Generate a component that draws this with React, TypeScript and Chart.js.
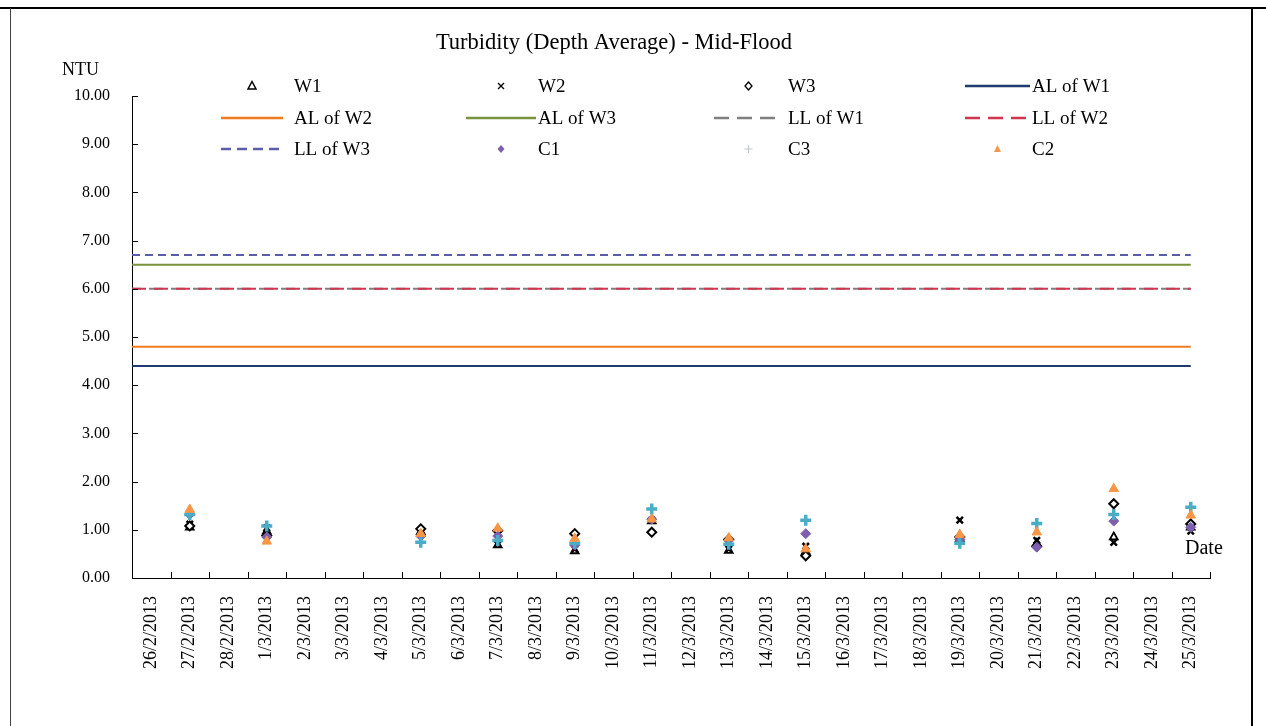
import React, { useEffect, useRef } from "react";
import { Chart, registerables } from "chart.js";

Chart.register(...registerables);

const categories = [
  "26/2/2013", "27/2/2013", "28/2/2013", "1/3/2013", "2/3/2013", "3/3/2013", "4/3/2013",
  "5/3/2013", "6/3/2013", "7/3/2013", "8/3/2013", "9/3/2013", "10/3/2013", "11/3/2013",
  "12/3/2013", "13/3/2013", "14/3/2013", "15/3/2013", "16/3/2013", "17/3/2013", "18/3/2013",
  "19/3/2013", "20/3/2013", "21/3/2013", "22/3/2013", "23/3/2013", "24/3/2013", "25/3/2013",
];

const _ = null;
//            26/2 27/2 28/2 1/3 2/3 3/3 4/3 5/3 6/3 7/3 8/3 9/3 10/3 11/3 12/3 13/3 14/3 15/3 16/3 17/3 18/3 19/3 20/3 21/3 22/3 23/3 24/3 25/3
const W1 = [_, 1.05, _, 0.97, _, _, _, 0.96, _, 0.68, _, 0.56, _, 1.18, _, 0.57, _, 0.55, _, _, _, 0.82, _, 0.72, _, 0.85, _, 1.05];
const W2 = [_, 1.12, _, 1.04, _, _, _, 0.98, _, 0.70, _, 0.60, _, 1.20, _, 0.60, _, 0.66, _, _, _, 1.20, _, 0.78, _, 0.74, _, 0.97];
const W3 = [_, 1.08, _, 0.88, _, _, _, 1.02, _, 0.98, _, 0.92, _, 0.95, _, 0.80, _, 0.46, _, _, _, 0.85, _, 0.66, _, 1.54, _, 1.12];
const C1 = [_, 1.32, _, 0.85, _, _, _, 0.87, _, 0.87, _, 0.68, _, 1.22, _, 0.78, _, 0.92, _, _, _, 0.80, _, 0.64, _, 1.18, _, 1.05];
const C3 = [_, 1.32, _, 1.08, _, _, _, 0.74, _, 0.78, _, 0.72, _, 1.43, _, 0.70, _, 1.20, _, _, _, 0.72, _, 1.13, _, 1.32, _, 1.47];
const C2 = [_, 1.42, _, 0.76, _, _, _, 0.92, _, 1.03, _, 0.82, _, 1.22, _, 0.83, _, 0.60, _, _, _, 0.90, _, 0.95, _, 1.85, _, 1.30];

const AL_W1 = 4.4;
const AL_W2 = 4.8;
const AL_W3 = 6.5;
const LL_W1 = 6.0;
const LL_W2 = 6.0;
const LL_W3 = 6.7;

const yTicks = [0, 1, 2, 3, 4, 5, 6, 7, 8, 9, 10];

const SERIF = "'Liberation Serif', 'Times New Roman', serif";

const COL = {
  navy: "#1F3B6E",
  orangeLine: "#F07A1E",
  green: "#77933C",
  grey: "#7F7F7F",
  red: "#D0364F",
  blueDash: "#5A5EA8",
  purple: "#7E5FAD",
  cyan: "#4BACC6",
  orange: "#F79646",
};

function levelLine(v: number) {
  return [
    { x: 0, y: v },
    { x: categories.length - 0.5, y: v },
  ];
}

function drawMarker(ctx: CanvasRenderingContext2D, kind: string, x: number, y: number) {
  ctx.save();
  ctx.setLineDash([]);
  if (kind === "W1") {
    ctx.beginPath();
    ctx.moveTo(x, y - 4.5);
    ctx.lineTo(x + 4, y + 3);
    ctx.lineTo(x - 4, y + 3);
    ctx.closePath();
    ctx.fillStyle = "#fff";
    ctx.fill();
    ctx.strokeStyle = "#000";
    ctx.lineWidth = 1.5;
    ctx.stroke();
  } else if (kind === "W2") {
    ctx.beginPath();
    ctx.moveTo(x - 3, y - 3);
    ctx.lineTo(x + 3, y + 3);
    ctx.moveTo(x + 3, y - 3);
    ctx.lineTo(x - 3, y + 3);
    ctx.strokeStyle = "#000";
    ctx.lineWidth = 1.3;
    ctx.stroke();
  } else if (kind === "W3") {
    ctx.beginPath();
    ctx.moveTo(x, y - 4);
    ctx.lineTo(x + 3.5, y);
    ctx.lineTo(x, y + 4);
    ctx.lineTo(x - 3.5, y);
    ctx.closePath();
    ctx.fillStyle = "#fff";
    ctx.fill();
    ctx.strokeStyle = "#000";
    ctx.lineWidth = 1.3;
    ctx.stroke();
  } else if (kind === "C1") {
    ctx.beginPath();
    ctx.moveTo(x, y - 4);
    ctx.lineTo(x + 3.5, y);
    ctx.lineTo(x, y + 4);
    ctx.lineTo(x - 3.5, y);
    ctx.closePath();
    ctx.fillStyle = COL.purple;
    ctx.fill();
  } else if (kind === "C3") {
    ctx.beginPath();
    ctx.moveTo(x, y - 4);
    ctx.lineTo(x, y + 4);
    ctx.moveTo(x - 4, y);
    ctx.lineTo(x + 4, y);
    ctx.strokeStyle = "#B9C7D0";
    ctx.lineWidth = 1;
    ctx.stroke();
  } else if (kind === "C2") {
    ctx.beginPath();
    ctx.moveTo(x, y - 4);
    ctx.lineTo(x + 3.5, y + 3);
    ctx.lineTo(x - 3.5, y + 3);
    ctx.closePath();
    ctx.fillStyle = COL.orange;
    ctx.fill();
  }
  ctx.restore();
}

type LegendItem = {
  label: string;
  col: number;
  row: number;
  marker?: string;
  color?: string;
  dash?: number[];
};

const legendItems: LegendItem[] = [
  { label: "W1", col: 0, row: 0, marker: "W1" },
  { label: "W2", col: 1, row: 0, marker: "W2" },
  { label: "W3", col: 2, row: 0, marker: "W3" },
  { label: "AL of W1", col: 3, row: 0, color: COL.navy, dash: [] },
  { label: "AL of W2", col: 0, row: 1, color: COL.orangeLine, dash: [] },
  { label: "AL of W3", col: 1, row: 1, color: COL.green, dash: [] },
  { label: "LL of W1", col: 2, row: 1, color: COL.grey, dash: [15, 8] },
  { label: "LL of W2", col: 3, row: 1, color: COL.red, dash: [15, 8] },
  { label: "LL of W3", col: 0, row: 2, color: COL.blueDash, dash: [10, 6] },
  { label: "C1", col: 1, row: 2, marker: "C1" },
  { label: "C3", col: 2, row: 2, marker: "C3" },
  { label: "C2", col: 3, row: 2, marker: "C2" },
];

// legend geometry in canvas coordinates
const legendCols = [
  { x0: 211, x1: 273, text: 284 },
  { x0: 456, x1: 526, text: 528 },
  { x0: 704, x1: 773, text: 778 },
  { x0: 955, x1: 1020, text: 1022 },
];
const legendRows = [76, 108, 139];

const decorPlugin = {
  id: "decor",
  afterDraw(chart: any) {
    const ctx: CanvasRenderingContext2D = chart.ctx;
    const area = chart.chartArea;
    const ys = chart.scales.y;
    ctx.save();
    ctx.strokeStyle = "#000";
    ctx.lineWidth = 1;
    yTicks.forEach((v) => {
      const y = Math.round(ys.getPixelForValue(v)) + 0.5;
      ctx.beginPath();
      ctx.moveTo(area.left, y);
      ctx.lineTo(area.left + 6, y);
      ctx.stroke();
    });
    const n = categories.length;
    for (let i = 1; i <= n; i++) {
      const x = Math.round(area.left + (i * (area.right - area.left)) / n) + 0.5;
      ctx.beginPath();
      ctx.moveTo(x, area.bottom);
      ctx.lineTo(x, area.bottom - 6);
      ctx.stroke();
    }
    ctx.fillStyle = "#000";
    ctx.font = `22.5px ${SERIF}`;
    ctx.textAlign = "center";
    ctx.textBaseline = "middle";
    ctx.fillText("Turbidity (Depth Average) - Mid-Flood", 604, 33);
    ctx.font = `18px ${SERIF}`;
    ctx.textAlign = "left";
    ctx.fillText("NTU", 52, 60);
    ctx.font = `20px ${SERIF}`;
    ctx.fillText("Date", 1175, 539);
    ctx.font = `19px ${SERIF}`;
    legendItems.forEach((it) => {
      const c = legendCols[it.col];
      const y = legendRows[it.row];
      if (it.marker) {
        drawMarker(ctx, it.marker, (c.x0 + c.x1) / 2, y);
      } else {
        ctx.save();
        ctx.strokeStyle = it.color!;
        ctx.lineWidth = 2.5;
        ctx.setLineDash(it.dash!);
        ctx.beginPath();
        ctx.moveTo(c.x0, y);
        ctx.lineTo(c.x1, y);
        ctx.stroke();
        ctx.restore();
      }
      ctx.fillStyle = "#000";
      ctx.textAlign = "left";
      ctx.textBaseline = "middle";
      ctx.fillText(it.label, c.text, y + 1);
    });
    ctx.restore();
  },
};

function markerSet(label: string, data: (number | null)[], style: any, order: number) {
  return {
    type: "line" as const,
    label,
    data,
    xAxisID: "x",
    yAxisID: "y",
    showLine: false,
    order,
    ...style,
  };
}

function lineSet(label: string, v: number, color: string, dash: number[], order: number, dashOffset = 0) {
  return {
    type: "line" as const,
    label,
    data: levelLine(v),
    xAxisID: "xl",
    yAxisID: "y",
    borderColor: color,
    borderWidth: 2,
    borderDash: dash,
    borderDashOffset: dashOffset,
    pointRadius: 0,
    fill: false,
    order,
  };
}

export default function App() {
  const ref = useRef<HTMLCanvasElement | null>(null);

  useEffect(() => {
    if (!ref.current) return;
    const chart = new Chart(ref.current, {
      type: "line",
      data: {
        labels: categories,
        datasets: [
          markerSet("W1", W1, { pointStyle: "triangle", pointRadius: 4.5, pointBackgroundColor: "#fff", pointBorderColor: "#000", pointBorderWidth: 1.8 }, 7),
          markerSet("W2", W2, { pointStyle: "crossRot", pointRadius: 4.5, pointBorderColor: "#000", pointBorderWidth: 2.5 }, 6),
          markerSet("W3", W3, { pointStyle: "rectRot", pointRadius: 4.5, pointBackgroundColor: "#fff", pointBorderColor: "#000", pointBorderWidth: 2 }, 5),
          lineSet("AL of W1", AL_W1, COL.navy, [], 20),
          lineSet("AL of W2", AL_W2, COL.orangeLine, [], 19),
          lineSet("AL of W3", AL_W3, COL.green, [], 18),
          lineSet("LL of W1", LL_W1, COL.grey, [14, 8], 17, 5),
          lineSet("LL of W2", LL_W2, COL.red, [14, 8], 16),
          lineSet("LL of W3", LL_W3, COL.blueDash, [8, 5], 15),
          markerSet("C1", C1, { pointStyle: "rectRot", pointRadius: 5, pointBackgroundColor: COL.purple, pointBorderColor: COL.purple, pointBorderWidth: 1 }, 3),
          markerSet("C3", C3, { pointStyle: "cross", pointRadius: 5.5, pointBorderColor: COL.cyan, pointBorderWidth: 3.5 }, 2),
          markerSet("C2", C2, { pointStyle: "triangle", pointRadius: 5.5, pointBackgroundColor: COL.orange, pointBorderColor: COL.orange, pointBorderWidth: 1 }, 1),
        ],
      } as any,
      options: {
        animation: false,
        responsive: false,
        maintainAspectRatio: false,
        layout: { padding: { top: 86, right: 40, bottom: 0, left: 0 } },
        plugins: {
          legend: { display: false },
          title: { display: false },
          tooltip: { enabled: false },
        },
        scales: {
          x: {
            type: "category",
            offset: true,
            grid: { display: false, offset: true },
            border: { display: true, color: "#000", width: 1 },
            ticks: {
              autoSkip: false,
              maxRotation: 90,
              minRotation: 90,
              padding: 10,
              color: "#000",
              font: { family: SERIF, size: 18 },
            },
            afterFit(scale: any) {
              scale.height = 142;
            },
          },
          xl: {
            type: "linear",
            display: false,
            min: 0,
            max: categories.length,
          },
          y: {
            type: "linear",
            min: 0,
            max: 10,
            grid: { display: false },
            border: { display: true, color: "#000", width: 1 },
            ticks: {
              stepSize: 1,
              padding: 14,
              color: "#000",
              font: { family: SERIF, size: 16 },
              callback: (v: any) => Number(v).toFixed(2),
            },
            afterFit(scale: any) {
              scale.width = 122;
            },
          },
        },
      } as any,
      plugins: [decorPlugin],
    });
    return () => chart.destroy();
  }, []);

  return (
    <div>
      <div style={{ position: "absolute", left: 0, top: 7, width: 1266, height: 2, background: "#000" }} />
      <div style={{ position: "absolute", left: 10, top: 8, width: 1, height: 718, background: "#444" }} />
      <div style={{ position: "absolute", left: 1251, top: 8, width: 2, height: 718, background: "#000" }} />
      <canvas
        ref={ref}
        width={1240}
        height={710}
        style={{ position: "absolute", left: 10, top: 10, width: 1240, height: 710 }}
      />
    </div>
  );
}
